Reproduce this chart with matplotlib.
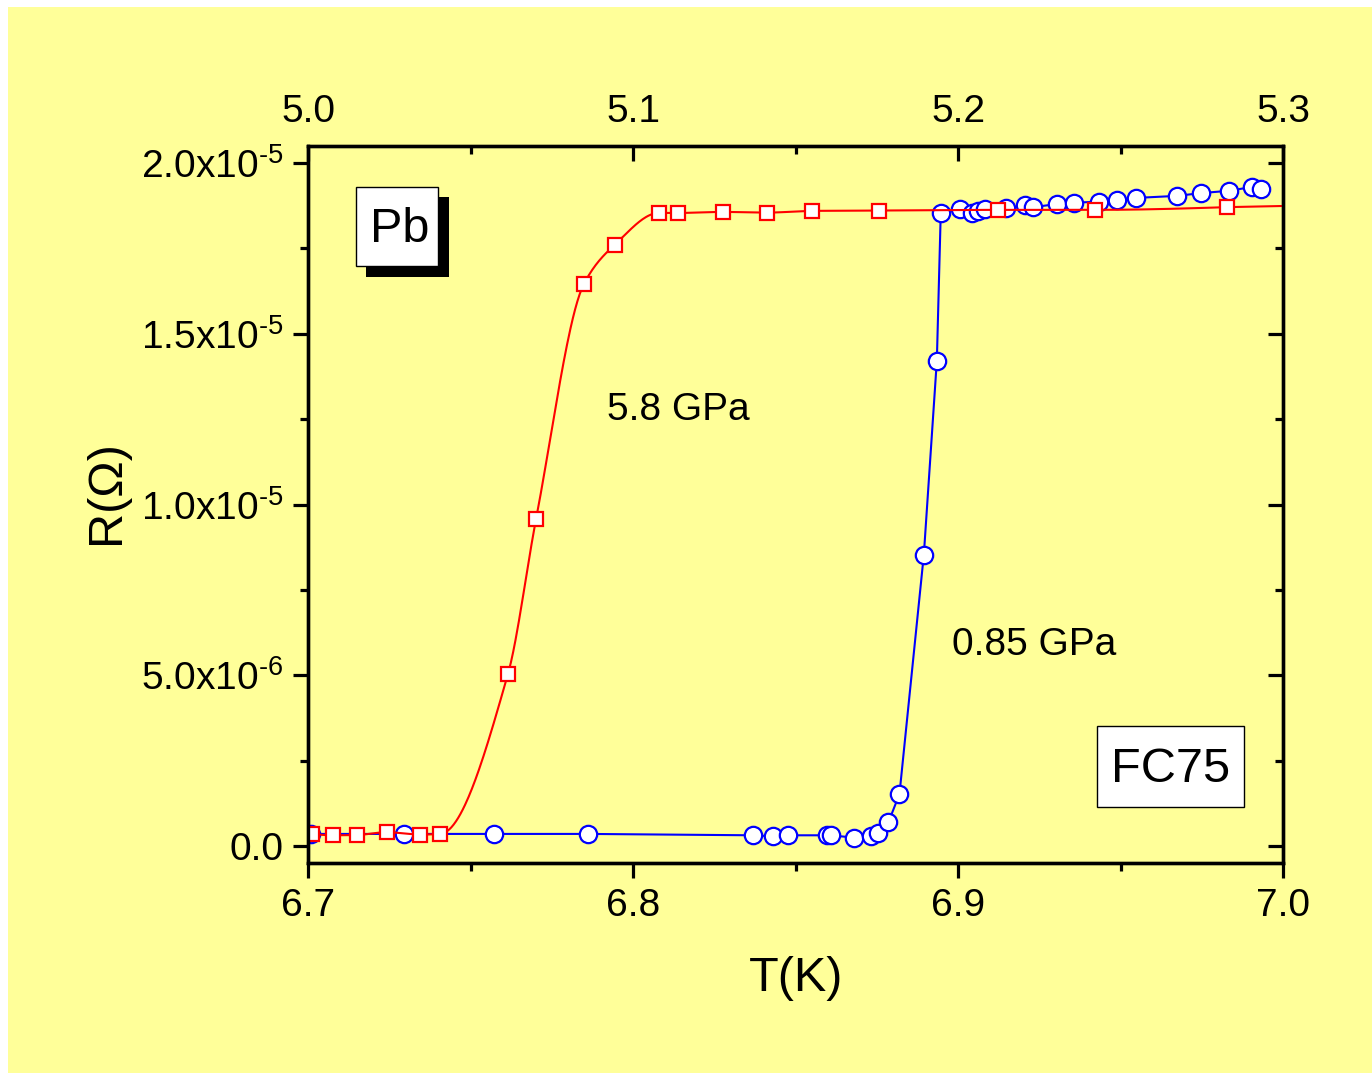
import numpy as np
import matplotlib
matplotlib.use("Agg")
import matplotlib.pyplot as plt
from matplotlib.ticker import FixedLocator, MultipleLocator
from matplotlib.patches import Rectangle

plt.rcParams["font.family"] = ["Liberation Sans", "DejaVu Sans"]
plt.rcParams["mathtext.fontset"] = "custom"
plt.rcParams["mathtext.rm"] = "Liberation Sans"
plt.rcParams["mathtext.it"] = "Liberation Sans:italic"
plt.rcParams["mathtext.default"] = "regular"

# 0.85 GPa run: temperature (K, bottom axis) and resistance (units of 1e-5 Ohm)
t_085 = [6.7008, 6.7294, 6.7571, 6.7860, 6.8367, 6.8431, 6.8477, 6.8597, 6.8608,
         6.8680, 6.8731, 6.8752, 6.8785, 6.8819, 6.8894, 6.8934, 6.8946, 6.9005,
         6.9043, 6.9062, 6.9082, 6.9147, 6.9205, 6.9231, 6.9303, 6.9356, 6.9433,
         6.9488, 6.9547, 6.9673, 6.9746, 6.9834, 6.9903, 6.9931]
r_085 = [0.036, 0.036, 0.036, 0.036, 0.032, 0.029, 0.032, 0.032, 0.032,
         0.025, 0.029, 0.040, 0.070, 0.153, 0.854, 1.422, 1.854, 1.865,
         1.854, 1.861, 1.866, 1.868, 1.876, 1.871, 1.880, 1.884, 1.887,
         1.893, 1.898, 1.904, 1.912, 1.919, 1.930, 1.925]

# 5.8 GPa run: temperature (K, top axis) and resistance (units of 1e-5 Ohm)
t_58 = [5.0010, 5.0077, 5.0151, 5.0241, 5.0344, 5.0406, 5.0614, 5.0701, 5.0848,
        5.0943, 5.1079, 5.1137, 5.1277, 5.1410, 5.1550, 5.1757, 5.2123, 5.2421,
        5.2827]
r_58 = [0.036, 0.032, 0.033, 0.041, 0.034, 0.036, 0.503, 0.959, 1.646,
        1.761, 1.854, 1.854, 1.857, 1.855, 1.860, 1.861, 1.863, 1.863,
        1.871]

r_scale = 1e-5

bottom_ticks = [6.7, 6.8, 6.9, 7.0]
bottom_labels = ["6.7", "6.8", "6.9", "7.0"]
top_ticks = [5.0, 5.1, 5.2, 5.3]
top_labels = ["5.0", "5.1", "5.2", "5.3"]
y_ticks = [0.0, 5e-6, 1e-5, 1.5e-5, 2e-5]
y_labels = ["0.0", r"5.0x10$^{\text{-}6}$", r"1.0x10$^{\text{-}5}$",
            r"1.5x10$^{\text{-}5}$", r"2.0x10$^{\text{-}5}$"]


def pchip(x, y, xn):
    """Monotone piecewise cubic Hermite interpolation."""
    x = np.asarray(x, float)
    y = np.asarray(y, float)
    h = np.diff(x)
    d = np.diff(y) / h
    n = len(x)
    m = np.zeros(n)
    for k in range(1, n - 1):
        if d[k - 1] * d[k] > 0:
            w1 = 2 * h[k] + h[k - 1]
            w2 = h[k] + 2 * h[k - 1]
            m[k] = (w1 + w2) / (w1 / d[k - 1] + w2 / d[k])
    for k0, ka, kb, ha, hb in ((0, 0, 1, h[0], h[1]), (n - 1, -1, -2, h[-1], h[-2])):
        mk = ((2 * ha + hb) * d[ka] - ha * d[kb]) / (ha + hb)
        if np.sign(mk) != np.sign(d[ka]):
            mk = 0.0
        elif np.sign(d[ka]) != np.sign(d[kb]) and abs(mk) > abs(3 * d[ka]):
            mk = 3 * d[ka]
        m[k0] = mk
    idx = np.clip(np.searchsorted(x, xn) - 1, 0, n - 2)
    hk = h[idx]
    s = (xn - x[idx]) / hk
    h00 = 2 * s**3 - 3 * s**2 + 1
    h10 = s**3 - 2 * s**2 + s
    h01 = -2 * s**3 + 3 * s**2
    h11 = s**3 - s**2
    return h00 * y[idx] + h10 * hk * m[idx] + h01 * y[idx + 1] + h11 * hk * m[idx + 1]


yellow = "#FFFF99"
fig = plt.figure(figsize=(13.72, 10.79), dpi=100, facecolor="white")
fig.add_artist(Rectangle((8 / 1372, 6 / 1079), 1 - 8 / 1372, 1 - 13 / 1079,
                         transform=fig.transFigure, facecolor=yellow,
                         edgecolor="none", zorder=-10))

ax = fig.add_axes([308.3 / 1372, 1 - 863.3 / 1079, 975 / 1372, 717.3 / 1079])
ax.set_facecolor(yellow)

# 0.85 GPa: straight segments with open circles (bottom temperature scale)
ax.plot(t_085, np.array(r_085) * r_scale, "-", color="#0000FF", lw=1.5,
        marker="o", ms=12.5, mfc="white", mec="#0000FF", mew=1.6)

ax.set_xlim(6.7, 7.0)
ax.set_ylim(-5e-7, 2.05e-5)

# 5.8 GPa on the top temperature scale
ax2 = ax.twiny()
ax2.set_xlim(5.0, 5.3)
tt = np.linspace(t_58[0], t_58[-1], 800)
rr = pchip(t_58, r_58, tt)
slope = (r_58[-1] - r_58[-2]) / (t_58[-1] - t_58[-2])
tt = np.append(tt, 5.3)
rr = np.append(rr, r_58[-1] + slope * (5.3 - t_58[-1]))
ax2.plot(tt, rr * r_scale, "-", color="#FF0000", lw=1.5)
ax2.plot(t_58, np.array(r_58) * r_scale, ls="none", marker="s", ms=10.5,
         mfc="white", mec="#FF0000", mew=1.6)

# ticks
ax.xaxis.set_major_locator(FixedLocator(bottom_ticks))
ax.set_xticklabels(bottom_labels)
ax.xaxis.set_minor_locator(MultipleLocator(0.05))
ax.yaxis.set_major_locator(FixedLocator(y_ticks))
ax.set_yticklabels(y_labels)
ax.yaxis.set_minor_locator(MultipleLocator(2.5e-6))
ax2.xaxis.set_major_locator(FixedLocator(top_ticks))
ax2.set_xticklabels(top_labels)
ax2.xaxis.set_minor_locator(MultipleLocator(0.05))

ax.tick_params(axis="both", which="both", direction="out", width=2.3, labelsize=28)
ax.tick_params(which="major", length=11)
ax.tick_params(which="minor", length=6)
ax.tick_params(axis="x", which="both", bottom=True, top=False, pad=6.5)
ax.tick_params(axis="y", which="both", left=True, right=False, pad=7)

ax2.yaxis.set_visible(True)
ax2.yaxis.tick_right()
ax2.tick_params(axis="both", which="both", direction="in", width=2.3, labelsize=28)
ax2.tick_params(which="major", length=11)
ax2.tick_params(which="minor", length=6)
ax2.tick_params(axis="x", which="both", top=True, bottom=False, pad=11.5)
ax2.tick_params(axis="y", which="both", right=True, left=False,
                labelright=False, labelleft=False)

for a in (ax, ax2):
    for sp in a.spines.values():
        sp.set_linewidth(2.4)

ax.set_xlabel("T(K)", fontsize=35)
ax.xaxis.set_label_coords(0.5, -0.16)
ax.xaxis.label.set_va("center")
ax.set_ylabel("R(Ω)", fontsize=35)
ax.yaxis.set_label_coords(-0.2065, 0.518)
ax.yaxis.label.set_va("center")

# curve labels
ax2.text(0.306, 0.618, "5.8 GPa", transform=ax2.transAxes, fontsize=28,
         ha="left", va="baseline")
ax2.text(0.660, 0.2904, "0.85 GPa", transform=ax2.transAxes, fontsize=28,
         ha="left", va="baseline")

# sample label with drop shadow
ax2.add_patch(Rectangle((0.0592, 0.8178), 0.1446 - 0.0592, 0.9293 - 0.8178,
                        transform=ax2.transAxes, facecolor="black",
                        edgecolor="none", zorder=5, clip_on=False))
ax2.add_patch(Rectangle((0.0489, 0.8327), 0.1327 - 0.0489, 0.9433 - 0.8327,
                        transform=ax2.transAxes, facecolor="white",
                        edgecolor="black", lw=1.0, zorder=6, clip_on=False))
ax2.text(0.0941, 0.8666, "Pb", transform=ax2.transAxes, fontsize=35,
         ha="center", va="baseline", zorder=7)

# pressure medium label
ax2.add_patch(Rectangle((0.8092, 0.0789), 0.9600 - 0.8092, 0.1914 - 0.0789,
                        transform=ax2.transAxes, facecolor="white",
                        edgecolor="black", lw=1.0, zorder=6, clip_on=False))
ax2.text(0.8846, 0.1138, "FC75", transform=ax2.transAxes, fontsize=35,
         ha="center", va="baseline", zorder=7)

fig.savefig("out.png", dpi=100, facecolor=fig.get_facecolor())
